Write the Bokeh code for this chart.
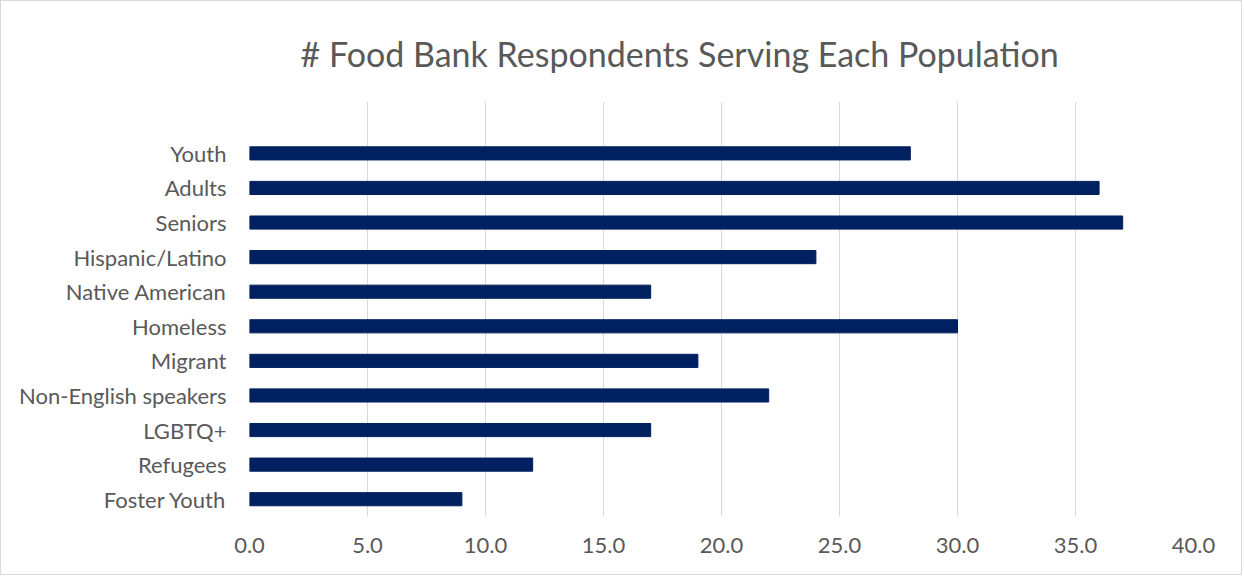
from bokeh.plotting import figure
from bokeh.models import FixedTicker, Range1d, ColumnDataSource
from bokeh.embed import file_html
from bokeh.resources import INLINE

title_text = "# Food Bank Respondents Serving Each Population"
categories = ["Youth", "Adults", "Seniors", "Hispanic/Latino", "Native American",
              "Homeless", "Migrant", "Non-English speakers", "LGBTQ+", "Refugees",
              "Foster Youth"]
values = [28, 36, 37, 24, 17, 30, 19, 22, 17, 12, 9]
x_ticks = [0, 5, 10, 15, 20, 25, 30, 35, 40]

n = len(categories)
ypos = [n - 1 - i for i in range(n)]
src = ColumnDataSource(dict(y=ypos, v=values, c=categories))

FONT = "Lato"
GREY = "#595959"

p = figure(width=1242, height=575, output_backend="svg", toolbar_location=None,
           x_range=Range1d(0, 40), y_range=Range1d(-0.5, n + 0.5),
           min_border_left=248, min_border_right=50, min_border_top=100,
           min_border_bottom=60)
p.styles = {"border": "1px solid #d9d9d9"}

p.hbar(y="y", right="v", left=0, height=0.38, source=src,
       fill_color="#002060", line_color="#002060")

p.title.text = title_text
p.title.text_font = FONT
p.title.text_font_size = "34px"
p.title.text_font_style = "normal"
p.title.text_color = GREY
p.title.align = "left"
p.title.offset = 51
p.title.standoff = 56

p.xaxis.ticker = FixedTicker(ticks=x_ticks)
p.xaxis.major_label_overrides = {t: f"{t:.1f}" for t in x_ticks}
p.yaxis.ticker = FixedTicker(ticks=ypos)
p.yaxis.major_label_overrides = {y: c for y, c in zip(ypos, categories)}

for ax in (p.xaxis[0], p.yaxis[0]):
    ax.axis_line_color = None
    ax.major_tick_line_color = None
    ax.minor_tick_line_color = None
    ax.major_label_text_font = FONT
    ax.major_label_text_font_size = "22px"
    ax.major_label_text_color = GREY
p.xaxis.major_label_standoff = 15
p.yaxis.major_label_standoff = 17

p.xgrid.grid_line_color = "#d9d9d9"
p.xgrid.grid_line_width = 1
p.ygrid.grid_line_color = None
p.outline_line_color = None

open("out.html", "w").write(file_html(p, INLINE))
